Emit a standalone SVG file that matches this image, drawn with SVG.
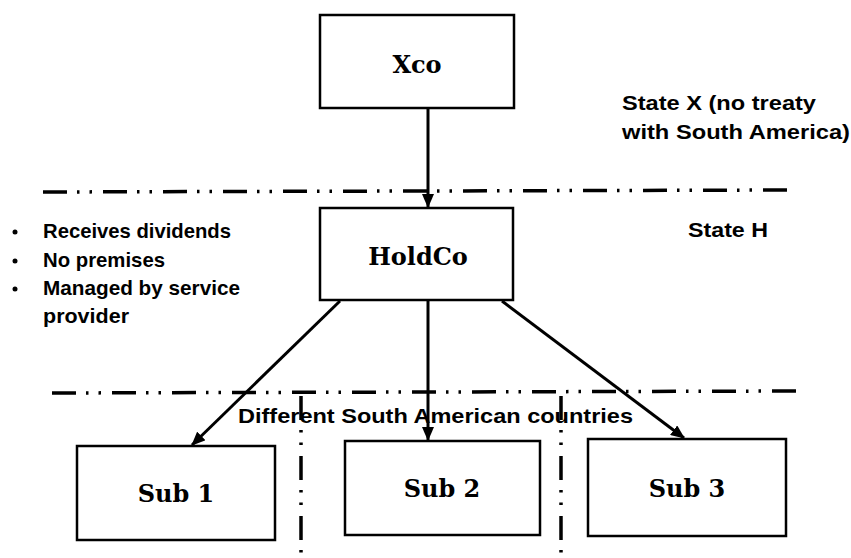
<svg xmlns="http://www.w3.org/2000/svg" width="851" height="558" viewBox="0 0 851 558">
  <style>
    .box { fill: #fff; stroke: #000; stroke-width: 2.5; }
    .node { font-family: "DejaVu Serif", "Liberation Serif", serif; font-weight: bold; font-size: 24px; fill: #000; text-anchor: middle; }
    .lbl { font-family: "Liberation Sans", Arial, sans-serif; font-weight: bold; font-size: 21px; fill: #000; }
    .sep { stroke: #000; stroke-width: 3.5; fill: none; stroke-dasharray: 24 10 2.5 10 2.5 11; }
    .edge { stroke: #000; stroke-width: 3; fill: none; marker-end: url(#head); }
  </style>
  <defs>
    <marker id="head" viewBox="0 0 14 12" refX="13" refY="6" markerWidth="14" markerHeight="12" markerUnits="userSpaceOnUse" orient="auto">
      <path d="M0,0 L14,6 L0,12 z" fill="#000"/>
    </marker>
  </defs>

  <!-- separators between jurisdictions -->
  <g id="separators">
    <line class="sep" x1="43" y1="192" x2="790" y2="190"/>
    <line class="sep" x1="52" y1="393" x2="800" y2="391"/>
    <line class="sep" x1="301" y1="396" x2="301" y2="558"/>
    <line class="sep" x1="561" y1="396" x2="561" y2="558"/>
  </g>

  <!-- region labels -->
  <g id="labels">
    <text class="lbl" x="622" y="110" textLength="194" lengthAdjust="spacingAndGlyphs">State X (no treaty</text>
    <text class="lbl" x="622" y="139" textLength="228" lengthAdjust="spacingAndGlyphs">with South America)</text>
    <text class="lbl" x="688" y="237" textLength="80" lengthAdjust="spacingAndGlyphs">State H</text>
    <text class="lbl" x="238" y="423" textLength="395" lengthAdjust="spacingAndGlyphs">Different South American countries</text>
  </g>

  <g id="holdco-notes">
    <circle cx="15" cy="232" r="2.5"/>
    <circle cx="15" cy="261" r="2.5"/>
    <circle cx="15" cy="289" r="2.5"/>
    <text class="lbl" x="43" y="238" textLength="188" lengthAdjust="spacingAndGlyphs">Receives dividends</text>
    <text class="lbl" x="43" y="267" textLength="122" lengthAdjust="spacingAndGlyphs">No premises</text>
    <text class="lbl" x="43" y="295" textLength="197" lengthAdjust="spacingAndGlyphs">Managed by service</text>
    <text class="lbl" x="43" y="323" textLength="86" lengthAdjust="spacingAndGlyphs">provider</text>
  </g>

  <!-- ownership connectors -->
  <g id="connectors">
    <line class="edge" x1="428" y1="108" x2="428" y2="207"/>
    <line class="edge" x1="340" y1="301" x2="192" y2="445"/>
    <line class="edge" x1="428" y1="301" x2="428" y2="440"/>
    <line class="edge" x1="502" y1="301" x2="684" y2="438"/>
  </g>

  <g id="xco">
    <rect class="box" x="320" y="15" width="194" height="93"/>
    <text class="node" x="417" y="73">Xco</text>
  </g>
  <g id="holdco">
    <rect class="box" x="320" y="208" width="193" height="92"/>
    <text class="node" x="418" y="265">HoldCo</text>
  </g>
  <g id="sub1">
    <rect class="box" x="77" y="446" width="198" height="94"/>
    <text class="node" x="176" y="502">Sub 1</text>
  </g>
  <g id="sub2">
    <rect class="box" x="345" y="441" width="195" height="94"/>
    <text class="node" x="442" y="497">Sub 2</text>
  </g>
  <g id="sub3">
    <rect class="box" x="588" y="439" width="198" height="97"/>
    <text class="node" x="687" y="497">Sub 3</text>
  </g>
</svg>
